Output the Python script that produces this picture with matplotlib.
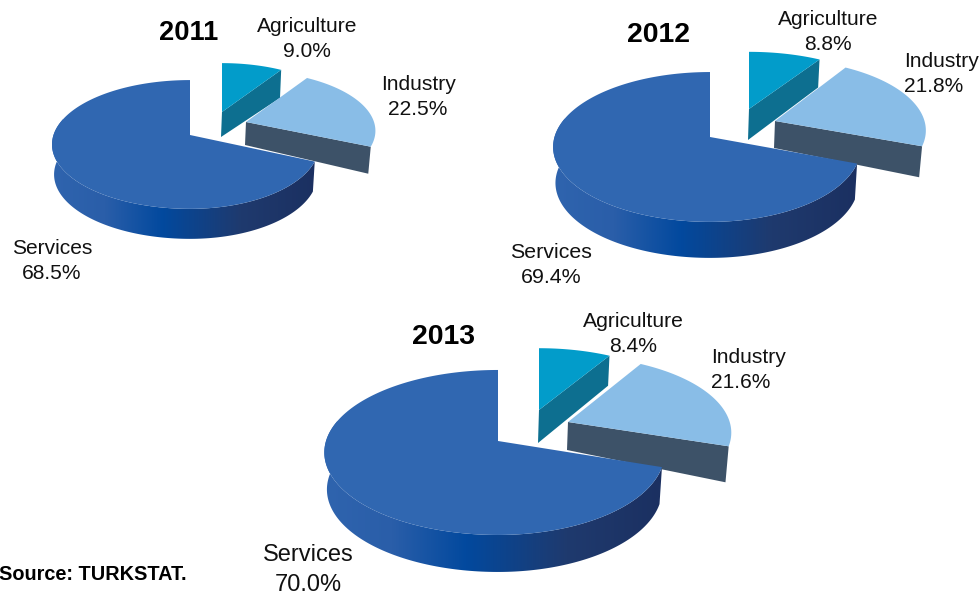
import numpy as np
import matplotlib
matplotlib.use('Agg')
import matplotlib.pyplot as plt
from matplotlib.colors import LinearSegmentedColormap
from matplotlib.patches import Polygon

plt.rcParams['font.family'] = ['Liberation Sans', 'DejaVu Sans']

years = ['2011', '2012', '2013']
categories = ['Agriculture', 'Industry', 'Services']
shares_2011 = [9.0, 22.5, 68.5]
shares_2012 = [8.8, 21.8, 69.4]
shares_2013 = [8.4, 21.6, 70.0]
shares = [shares_2011, shares_2012, shares_2013]

top_colors = ['#029cca', '#89bde7', '#3067b1']
wall_colors = ['#0d6f90', '#3d5268']
wall_gradient = ['#2f64ae', '#2a5ea9', '#02499e', '#1f3a6e', '#1b3061']

# page layout in pixels, one entry per pie
pies = [
    dict(k=0.147, ry=63.0, rxl=136.5, rxr=128.0, apex=[(222, 112), (246, 122), (190, 135)],
         sx=[0.97, 1.0, 1.0], sy=[0.89, 0.93, 1.0], d0=[25, 23, 30], d1=[28, 27, 30]),
    dict(k=0.133, ry=73.6, rxl=155.5, rxr=149.5, apex=[(749, 109), (775, 121), (710, 137)],
         sx=[1.0, 1.0, 1.0], sy=[0.88, 0.95, 1.0], d0=[31, 27, 35], d1=[28, 31, 36]),
    dict(k=0.139, ry=80.9, rxl=172.0, rxr=165.0, apex=[(539, 410), (568, 422), (498, 441)],
         sx=[0.95, 0.98, 1.0], sy=[0.87, 0.93, 1.0], d0=[33, 28, 36], d1=[30, 36, 37]),
]
title_pos = [(189, 33, 19.6), (658, 35, 20.4), (443, 337, 20.4)]
label_pos = [
    [(307, 39, 15.1), (418, 97, 15.1), (52, 261, 15.1)],
    [(828, 32, 15.1), (941, 74, 15.1), (551, 265, 15.4)],
    [(633, 334, 15.2), (748, 370, 15.1), (308, 570, 17)],
]
label_align = [
    ['center', 'center', 'center'],
    ['center', 'left', 'center'],
    ['center', 'left', 'center'],
]


def project(pie, i, t):
    # clock angle on the tilted disc -> pixels, the near side comes out bigger
    u, v = np.sin(t), np.cos(t)
    s = 1 / (1 + pie['k'] * v)
    rx = np.where(u > 0, pie['rxr'], pie['rxl'])
    ax0, ay0 = pie['apex'][i]
    return ax0 + rx * u * s * pie['sx'][i], ay0 - pie['ry'] * v * s * pie['sy'][i]


def draw_pie(ax, pie, values):
    stops = np.radians(np.cumsum([0] + values) * 3.6)
    # smaller slices first, services lies on top of them
    for i in range(2):
        ax0, ay0 = pie['apex'][i]
        t = np.linspace(stops[i], stops[i + 1], 80)
        x, y = project(pie, i, t)
        face = [(ax0, ay0), (x[-1], y[-1]),
                (ax0 + (x[-1] - ax0) * 0.98, y[-1] + pie['d1'][i]),
                (ax0 - 1, ay0 + pie['d0'][i])]
        ax.add_patch(Polygon(face, closed=True, fc=wall_colors[i], ec='none'))
        ax.add_patch(Polygon([(ax0, ay0)] + list(zip(x, y)), closed=True, fc=top_colors[i], ec='none'))

    ax0, ay0 = pie['apex'][2]
    t = np.linspace(stops[2], 2 * np.pi, 200)
    x, y = project(pie, 2, t)

    # outer wall with the horizontal gradient
    tw = np.linspace(stops[2], np.radians(285), 160)
    xw, yw = project(pie, 2, tw)
    d = pie['d1'][2]
    xb = ax0 + (xw - ax0) * 0.985
    outline = list(zip(xw, yw)) + list(zip(xb[::-1], yw[::-1] + d))
    wall = Polygon(outline, closed=True, fc='none', ec='none', transform=ax.transData)
    ax.add_patch(wall)
    cmap = LinearSegmentedColormap.from_list('wall', list(zip([0, 0.2, 0.42, 0.72, 1], wall_gradient)))
    grad = np.linspace(0, 1, 256).reshape(1, -1)
    img = ax.imshow(grad, cmap=cmap, aspect='auto', interpolation='bilinear',
                    extent=(xw.min(), xw.max(), yw.max() + d, yw.min()))
    img.set_clip_path(wall)

    ax.add_patch(Polygon([(ax0, ay0)] + list(zip(x, y)), closed=True, fc=top_colors[2], ec='none'))


fig = plt.figure(figsize=(9.8, 5.95), dpi=100)
ax = fig.add_axes([0, 0, 1, 1])

for n in range(len(years)):
    draw_pie(ax, pies[n], shares[n])
    tx, ty, ts = title_pos[n]
    ax.text(tx, ty, years[n], ha='center', va='center', fontsize=ts, fontweight='bold', color='black')
    for cat, val, (lx, ly, ls), al in zip(categories, shares[n], label_pos[n], label_align[n]):
        ax.text(lx, ly, f'{cat}\n{val:.1f}%', ha='center', va='center', multialignment=al,
                fontsize=ls, linespacing=1.42, color='#111111')

ax.text(-1, 574, 'Source: TURKSTAT.', ha='left', va='center', fontsize=14.3, fontweight='bold', color='black')

ax.set_xlim(0, 980)
ax.set_ylim(595, 0)
ax.axis('off')
fig.savefig('out.png', dpi=100)
